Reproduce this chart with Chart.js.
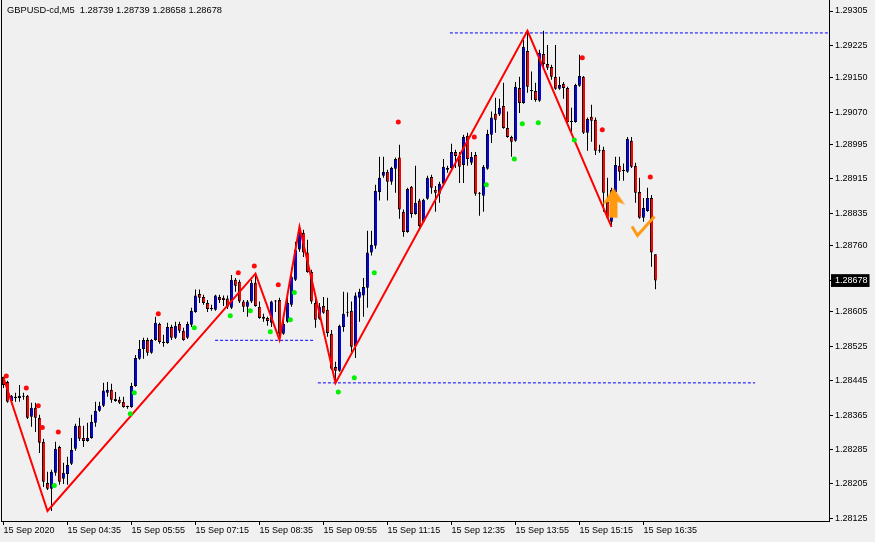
<!DOCTYPE html>
<html>
<head>
<meta charset="utf-8">
<title>GBPUSD-cd,M5</title>
<script src="https://cdn.jsdelivr.net/npm/chart.js@4.4.1/dist/chart.umd.min.js"></script>
<style>
  html, body { margin: 0; padding: 0; background: #f0f0f0; }
  #wrap { position: relative; width: 875px; height: 542px; overflow: hidden; }
  #chart { display: block; }
  #caption { position: absolute; left: 7px; top: 4px; font: 9.3px 'Liberation Sans', Arial, sans-serif; color: #000; white-space: pre; line-height: 12px; }
</style>
</head>
<body>
<div id="wrap">
  <canvas id="chart" width="875" height="542"></canvas>
  <div id="caption">GBPUSD-cd,M5  1.28739 1.28739 1.28658 1.28678</div>
</div>
<script>
// M5 candles, 15 Sep 2020 03:15 .. 16:50
const opens = [1.28454,1.28442,1.28398,1.28408,1.28405,1.28410,1.28410,1.28361,1.28382,1.28359,
  1.28303,1.28207,1.28194,1.28231,1.28291,1.28217,1.28228,1.28252,1.28287,1.28340,
  1.28312,1.28305,1.28312,1.28347,1.28375,1.28387,1.28417,1.28424,1.28403,1.28401,
  1.28396,1.28384,1.28384,1.28433,1.28496,1.28519,1.28540,1.28510,1.28540,1.28577,
  1.28535,1.28533,1.28570,1.28545,1.28577,1.28561,1.28545,1.28575,1.28605,1.28647,
  1.28640,1.28626,1.28612,1.28610,1.28640,1.28638,1.28636,1.28615,1.28680,1.28675,
  1.28629,1.28617,1.28629,1.28673,1.28617,1.28594,1.28591,1.28580,1.28629,1.28633,
  1.28554,1.28582,1.28622,1.28680,1.28750,1.28789,1.28743,1.28698,1.28626,1.28589,
  1.28619,1.28610,1.28554,1.28477,1.28468,1.28570,1.28603,1.28608,1.28526,1.28638,
  1.28643,1.28661,1.28743,1.28759,1.28884,1.28922,1.28931,1.28908,1.28938,1.28964,
  1.28838,1.28791,1.28896,1.28833,1.28864,1.28815,1.28868,1.28919,1.28889,1.28880,
  1.28903,1.28936,1.28940,1.28977,1.28968,1.28947,1.29015,1.28952,1.28970,1.28882,
  1.28875,1.28938,1.29017,1.29066,1.29064,1.29084,1.29033,1.29012,1.29003,1.29126,
  1.29091,1.29212,1.29119,1.29119,1.29096,1.29205,1.29182,1.29175,1.29152,1.29124,
  1.29136,1.29126,1.29050,1.29047,1.29131,1.29152,1.29022,1.29059,1.29052,1.28980,
  1.28982,1.28861,1.28815,1.28884,1.28945,1.28933,1.28931,1.29003,1.28945,1.28884,
  1.28824,1.28840,1.28870,1.28739];
const highs = [1.28454,1.28445,1.28412,1.28417,1.28435,1.28417,1.28412,1.28394,1.28394,1.28366,
  1.28310,1.28233,1.28238,1.28303,1.28294,1.28254,1.28268,1.28312,1.28345,1.28359,
  1.28340,1.28347,1.28366,1.28396,1.28396,1.28440,1.28442,1.28438,1.28419,1.28408,
  1.28408,1.28387,1.28440,1.28505,1.28540,1.28545,1.28545,1.28542,1.28594,1.28580,
  1.28552,1.28580,1.28575,1.28582,1.28582,1.28568,1.28582,1.28615,1.28657,1.28657,
  1.28645,1.28633,1.28622,1.28645,1.28645,1.28643,1.28643,1.28691,1.28684,1.28680,
  1.28633,1.28633,1.28680,1.28694,1.28629,1.28601,1.28594,1.28631,1.28633,1.28638,
  1.28591,1.28638,1.28708,1.28768,1.28803,1.28796,1.28773,1.28703,1.28640,1.28626,
  1.28640,1.28638,1.28563,1.28489,1.28575,1.28652,1.28650,1.28629,1.28650,1.28659,
  1.28684,1.28794,1.28794,1.28901,1.28966,1.28966,1.28936,1.28943,1.28964,1.28994,
  1.28843,1.28894,1.28898,1.28945,1.28868,1.28868,1.28922,1.28924,1.28898,1.28908,
  1.28961,1.28945,1.28996,1.28982,1.28977,1.29017,1.29022,1.28977,1.28977,1.28884,
  1.28947,1.29029,1.29071,1.29103,1.29101,1.29138,1.29071,1.29015,1.29140,1.29152,
  1.29238,1.29259,1.29164,1.29138,1.29215,1.29259,1.29226,1.29180,1.29226,1.29152,
  1.29140,1.29129,1.29080,1.29136,1.29203,1.29154,1.29057,1.29087,1.29057,1.28994,
  1.28989,1.28917,1.28894,1.28966,1.28966,1.28950,1.29012,1.29012,1.28952,1.28917,
  1.28870,1.28894,1.28877,1.28739];
const lows = [1.28428,1.28394,1.28391,1.28396,1.28396,1.28401,1.28356,1.28338,1.28326,1.28277,
  1.28198,1.28191,1.28142,1.28224,1.28203,1.28205,1.28203,1.28249,1.28282,1.28305,
  1.28291,1.28303,1.28310,1.28338,1.28373,1.28384,1.28408,1.28394,1.28396,1.28391,
  1.28382,1.28380,1.28382,1.28431,1.28494,1.28496,1.28503,1.28508,1.28538,1.28531,
  1.28524,1.28531,1.28540,1.28542,1.28556,1.28538,1.28542,1.28570,1.28603,1.28626,
  1.28622,1.28605,1.28608,1.28608,1.28626,1.28619,1.28612,1.28612,1.28652,1.28626,
  1.28605,1.28594,1.28626,1.28617,1.28589,1.28582,1.28573,1.28570,1.28605,1.28540,
  1.28552,1.28580,1.28617,1.28677,1.28745,1.28733,1.28696,1.28624,1.28568,1.28587,
  1.28601,1.28547,1.28470,1.28440,1.28466,1.28559,1.28594,1.28512,1.28498,1.28582,
  1.28594,1.28615,1.28736,1.28752,1.28864,1.28917,1.28864,1.28901,1.28882,1.28822,
  1.28780,1.28789,1.28824,1.28831,1.28798,1.28812,1.28866,1.28880,1.28838,1.28859,
  1.28898,1.28929,1.28938,1.28940,1.28905,1.28905,1.28945,1.28947,1.28875,1.28829,
  1.28838,1.28936,1.28998,1.29022,1.29061,1.29031,1.29010,1.28966,1.29001,1.29068,
  1.29089,1.29115,1.29098,1.29094,1.29094,1.29173,1.29168,1.29145,1.29122,1.29122,
  1.29101,1.29040,1.29017,1.29045,1.29129,1.29019,1.28980,1.29001,1.28970,1.28975,
  1.28838,1.28822,1.28803,1.28882,1.28910,1.28910,1.28929,1.28940,1.28859,1.28822,
  1.28815,1.28838,1.28710,1.28658];
const closes = [1.28435,1.28396,1.28410,1.28405,1.28410,1.28408,1.28359,1.28382,1.28359,1.28301,
  1.28210,1.28194,1.28233,1.28287,1.28210,1.28231,1.28249,1.28284,1.28340,1.28310,
  1.28305,1.28312,1.28349,1.28375,1.28387,1.28422,1.28424,1.28401,1.28398,1.28394,
  1.28384,1.28384,1.28433,1.28498,1.28519,1.28540,1.28510,1.28540,1.28580,1.28535,
  1.28533,1.28570,1.28545,1.28573,1.28561,1.28540,1.28577,1.28608,1.28643,1.28638,
  1.28626,1.28612,1.28612,1.28643,1.28633,1.28633,1.28617,1.28680,1.28666,1.28629,
  1.28617,1.28629,1.28673,1.28619,1.28591,1.28589,1.28584,1.28629,1.28629,1.28554,
  1.28577,1.28626,1.28687,1.28750,1.28789,1.28743,1.28698,1.28629,1.28587,1.28617,
  1.28603,1.28556,1.28473,1.28468,1.28573,1.28601,1.28603,1.28524,1.28643,1.28652,
  1.28663,1.28743,1.28761,1.28887,1.28917,1.28931,1.28908,1.28940,1.28961,1.28843,
  1.28791,1.28891,1.28833,1.28859,1.28805,1.28866,1.28917,1.28894,1.28882,1.28903,
  1.28943,1.28940,1.28977,1.28968,1.28943,1.29012,1.28961,1.28966,1.28880,1.28880,
  1.28943,1.29019,1.29057,1.29052,1.29080,1.29033,1.29012,1.29001,1.29129,1.29091,
  1.29222,1.29129,1.29119,1.29098,1.29208,1.29182,1.29173,1.29152,1.29124,1.29133,
  1.29126,1.29047,1.29047,1.29133,1.29154,1.29022,1.29054,1.29050,1.28980,1.28980,
  1.28882,1.28824,1.28889,1.28947,1.28931,1.28933,1.29008,1.28943,1.28882,1.28824,
  1.28847,1.28870,1.28743,1.28678];

// zigzag turning points (bar index, price)
const zigzagIdx = [0, 11, 63, 69, 74, 83, 131, 152];
const zigzagPrice = [1.28452, 1.28142, 1.28694, 1.28540, 1.28803, 1.28440, 1.29259, 1.28803];

// signal dots
const redDotIdx = [0, 5, 8, 9, 13, 38, 58, 62, 68, 98, 117, 144, 149, 161];
const redDotPrice = [1.28456, 1.28428, 1.28387, 1.28336, 1.28326, 1.28601, 1.28696, 1.28712, 1.28668,
  1.29047, 1.29012, 1.29196, 1.29029, 1.28919];
const greenDotIdx = [12, 31, 32, 47, 56, 61, 66, 71, 72, 83, 87, 92, 120, 127, 129, 133, 142];
const greenDotPrice = [1.28201, 1.28368, 1.28417, 1.28568, 1.28596, 1.28608, 1.28559, 1.28587, 1.28650,
  1.28419, 1.28452, 1.28696, 1.28901, 1.28961, 1.29043, 1.29045, 1.29005];

// dashed levels: [from bar, to bar, price]
const levelHigh = [111.6, 206.4, 1.29254];
const levelMid = [52.9, 77.4, 1.28539];
const levelLow = [78.6, 187.9, 1.28440];

// arrow and check signals
const arrowIdx = [152.5];
const arrowPrice = [1.28858];
const checkIdx = [160];
const checkPrice = [1.28804];

// axes
const priceTicks = [1.29305, 1.29225, 1.29150, 1.29070, 1.28995, 1.28915, 1.28835, 1.28760,
  1.28678, 1.28605, 1.28525, 1.28445, 1.28365, 1.28285, 1.28205, 1.28125];
const lastPrice = 1.28678;
const timeTickIdx = [0, 16, 32, 48, 64, 80, 96, 112, 128, 144, 160];
const timeLabels = ['15 Sep 2020', '15 Sep 04:35', '15 Sep 05:55', '15 Sep 07:15', '15 Sep 08:35',
  '15 Sep 09:55', '15 Sep 11:15', '15 Sep 12:35', '15 Sep 13:55', '15 Sep 15:15', '15 Sep 16:35'];
const priceMin = 1.281187, priceMax = 1.293306;
const barMin = -0.375, barMax = 206.375;

const DOT_SHIFT = 0.7; // dots sit a little right of their bar

document.addEventListener('DOMContentLoaded', function(){
  Chart.defaults.font.family = "'Liberation Sans', Arial, sans-serif";
  Chart.defaults.font.size = 9;
  Chart.defaults.color = '#000';

  const bodies = opens.map((o, i) => ({x: i, y: [o, closes[i]]}));
  const wicks = opens.map((o, i) => ({x: i, y: [lows[i], highs[i]]}));
  const bodyColors = opens.map((o, i) => closes[i] > o ? '#0000ff' : '#ff0000');

  const zigzag = zigzagIdx.map((x, i) => ({x: x, y: zigzagPrice[i]}));
  const redDots = redDotIdx.map((x, i) => ({x: x + DOT_SHIFT, y: redDotPrice[i]}));
  const greenDots = greenDotIdx.map((x, i) => ({x: x + DOT_SHIFT, y: greenDotPrice[i]}));
  const level = l => [{x: l[0], y: l[2]}, {x: l[1], y: l[2]}];

  // arrow glyph
  const arrowImg = document.createElement('canvas');
  arrowImg.width = 24; arrowImg.height = 31;
  let g = arrowImg.getContext('2d');
  g.fillStyle = '#ff9a10';
  g.beginPath();
  g.moveTo(12, 0); g.lineTo(23.5, 17); g.lineTo(16, 14); g.lineTo(16, 30);
  g.lineTo(8, 30); g.lineTo(8, 14); g.lineTo(0.5, 17); g.closePath();
  g.fill();

  // check glyph
  const checkImg = document.createElement('canvas');
  checkImg.width = 25; checkImg.height = 23;
  g = checkImg.getContext('2d');
  g.strokeStyle = '#ff9a10';
  g.lineWidth = 3;
  g.beginPath();
  g.moveTo(1, 11.5); g.lineTo(6.5, 20.5); g.lineTo(23.5, 1.5);
  g.stroke();

  const frame = {
    id: 'frame',
    afterDraw(chart){
      const c = chart.ctx, a = chart.chartArea;
      c.save();
      c.strokeStyle = '#000';
      c.lineWidth = 1;
      c.beginPath();
      c.moveTo(a.left - 0.5, 0);
      c.lineTo(a.left - 0.5, a.bottom + 1);
      c.stroke();
      c.restore();
    }
  };

  const noPad = s => { s.paddingLeft = 0; s.paddingRight = 0; s.paddingTop = 0; s.paddingBottom = 0; };

  const ctx = document.getElementById('chart').getContext('2d');
  new Chart(ctx, {
    type: 'bar',
    data: {
      datasets: [
        { type: 'line', data: level(levelHigh), borderColor: '#0000ff', borderWidth: 1, borderDash: [3, 2], pointRadius: 0, order: 7 },
        { type: 'line', data: level(levelMid), borderColor: '#0000ff', borderWidth: 1, borderDash: [3, 2], pointRadius: 0, order: 7 },
        { type: 'line', data: level(levelLow), borderColor: '#0000ff', borderWidth: 1, borderDash: [3, 2], pointRadius: 0, order: 7 },
        { type: 'bar', data: wicks, backgroundColor: '#000', borderWidth: 0, barThickness: 1, grouped: false, inflateAmount: 0, order: 6 },
        { type: 'bar', data: bodies, backgroundColor: bodyColors, borderColor: '#000',
          borderWidth: { left: 1, right: 0, top: 1, bottom: 1 }, borderSkipped: false,
          barThickness: 3, minBarLength: 1, grouped: false, inflateAmount: 0, order: 5 },
        { type: 'line', data: zigzag, borderColor: '#ff0000', borderWidth: 2, pointRadius: 0, tension: 0, order: 4 },
        { type: 'line', data: redDots, showLine: false, pointRadius: 2.5, pointBorderWidth: 0, pointBackgroundColor: '#ff0a0a', order: 3 },
        { type: 'line', data: greenDots, showLine: false, pointRadius: 2.5, pointBorderWidth: 0, pointBackgroundColor: '#00f000', order: 3 },
        { type: 'line', data: arrowIdx.map((x, i) => ({x: x, y: arrowPrice[i]})), showLine: false, pointStyle: arrowImg, order: 1 },
        { type: 'line', data: checkIdx.map((x, i) => ({x: x, y: checkPrice[i]})), showLine: false, pointStyle: checkImg, order: 1 }
      ]
    },
    options: {
      responsive: false,
      animation: false,
      devicePixelRatio: 1,
      events: [],
      layout: { autoPadding: false, padding: { left: 2, top: 0, right: 0, bottom: 0 } },
      plugins: { legend: { display: false }, tooltip: { enabled: false } },
      scales: {
        x: {
          type: 'linear', min: barMin, max: barMax, offset: false,
          grid: { offset: false, drawOnChartArea: false, drawTicks: true, tickLength: 4, color: '#000' },
          border: { display: true, color: '#000' },
          ticks: { autoSkip: false, maxRotation: 0, align: 'start', padding: 0, color: '#000',
            callback: (v, i) => timeLabels[i] },
          afterBuildTicks: s => { s.ticks = timeTickIdx.map(v => ({value: v})); },
          afterFit: s => { s.height = 21; noPad(s); }
        },
        y: {
          type: 'linear', position: 'right', min: priceMin, max: priceMax,
          grid: { drawOnChartArea: false, drawTicks: true, tickLength: 4, color: '#000' },
          border: { display: true, color: '#000' },
          ticks: {
            padding: 2,
            color: c => c.tick && c.tick.value === lastPrice ? '#fff' : '#000',
            showLabelBackdrop: c => !!(c.tick && c.tick.value === lastPrice),
            backdropColor: '#000',
            backdropPadding: { top: 1, bottom: 1, left: 4, right: 2 },
            callback: v => v.toFixed(5)
          },
          afterBuildTicks: s => { s.ticks = priceTicks.map(v => ({value: v})); },
          afterFit: s => { s.width = 46; noPad(s); }
        }
      }
    },
    plugins: [frame]
  });
});
</script>
</body>
</html>
